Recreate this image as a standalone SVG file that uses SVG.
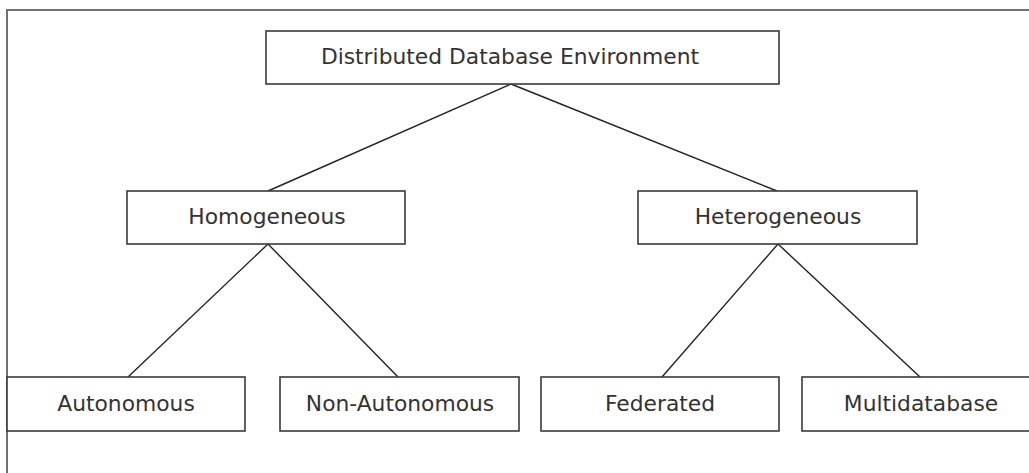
<svg xmlns="http://www.w3.org/2000/svg" width="1029" height="473" viewBox="0 0 1029 473">
<style>
.box{fill:#fff;stroke:#3a3a3a;stroke-width:1.6}
.lbl{font-family:"DejaVu Sans",Verdana,sans-serif;font-size:21.8px;fill:#333;text-anchor:middle}
.con line{stroke:#222;stroke-width:1.4}
.frame{fill:none;stroke:#707070;stroke-width:2}
</style>
<rect width="1029" height="473" fill="#fff"/>
<path class="frame" d="M7,480 V10 H1035"/>
<g id="connectors" class="con">
<line x1="511" y1="84" x2="268" y2="191"/>
<line x1="511" y1="84" x2="777" y2="191"/>
<line x1="268" y1="244" x2="128" y2="377"/>
<line x1="268" y1="244" x2="398" y2="377"/>
<line x1="778" y1="244" x2="662" y2="377"/>
<line x1="778" y1="244" x2="920" y2="377"/>
</g>
<g id="n-root"><rect class="box" x="266" y="31" width="513" height="53"/><text class="lbl" x="510" y="64">Distributed Database Environment</text></g>
<g id="n-homo"><rect class="box" x="127" y="191" width="278" height="53"/><text class="lbl" x="267" y="224">Homogeneous</text></g>
<g id="n-hetero"><rect class="box" x="638" y="191" width="279" height="53"/><text class="lbl" x="778" y="224">Heterogeneous</text></g>
<g id="n-auto"><rect class="box" x="7" y="377" width="238" height="54"/><text class="lbl" x="126" y="411">Autonomous</text></g>
<g id="n-nonauto"><rect class="box" x="280" y="377" width="239" height="54"/><text class="lbl" x="400" y="411">Non-Autonomous</text></g>
<g id="n-fed"><rect class="box" x="541" y="377" width="238" height="54"/><text class="lbl" x="660" y="411">Federated</text></g>
<g id="n-multi"><rect class="box" x="802" y="377" width="240" height="54"/><text class="lbl" x="921" y="411">Multidatabase</text></g>
</svg>
